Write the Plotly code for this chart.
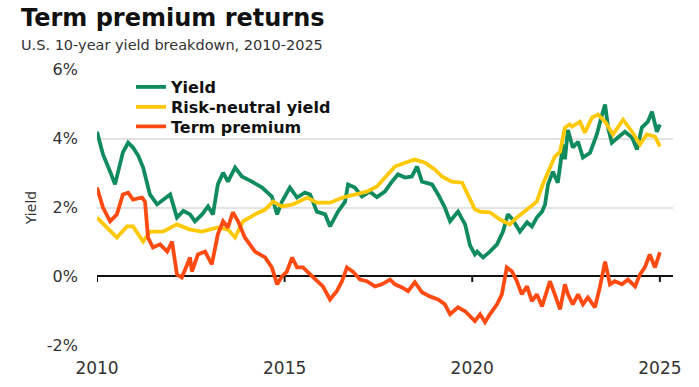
import plotly.graph_objects as go

# ---- data ----
yield_years = [2010.00, 2010.16, 2010.35, 2010.48, 2010.69, 2010.83, 2010.96, 2011.10, 2011.23, 2011.41,
               2011.60, 2011.80, 2011.95, 2012.13, 2012.30, 2012.48, 2012.61, 2012.80, 2012.96, 2013.09,
               2013.22, 2013.36, 2013.49, 2013.68, 2013.86, 2014.13, 2014.40, 2014.66, 2014.80, 2014.93,
               2015.14, 2015.33, 2015.54, 2015.68, 2015.86, 2016.08, 2016.21, 2016.42, 2016.61, 2016.69,
               2016.87, 2017.06, 2017.27, 2017.46, 2017.67, 2017.86, 2018.02, 2018.21, 2018.39, 2018.53,
               2018.66, 2018.93, 2019.09, 2019.27, 2019.41, 2019.62, 2019.81, 2019.94, 2020.07, 2020.13,
               2020.29, 2020.47, 2020.66, 2020.82, 2020.95, 2021.08, 2021.27, 2021.46, 2021.59, 2021.72,
               2021.86, 2021.94, 2022.02, 2022.15, 2022.28, 2022.42, 2022.47, 2022.55, 2022.68, 2022.82,
               2022.95, 2023.14, 2023.32, 2023.46, 2023.54, 2023.62, 2023.72, 2023.88, 2024.07, 2024.26,
               2024.39, 2024.52, 2024.68, 2024.79, 2024.92, 2025.00]
yield_vals = [4.20, 3.54, 3.04, 2.67, 3.60, 3.88, 3.74, 3.50, 3.16, 2.38,
              2.09, 2.25, 2.38, 1.71, 1.90, 1.80, 1.60, 1.80, 2.03, 1.80,
              2.67, 3.01, 2.75, 3.16, 2.90, 2.75, 2.58, 2.32, 1.80, 2.17,
              2.58, 2.29, 2.43, 2.38, 1.88, 1.80, 1.45, 1.88, 2.17, 2.67,
              2.58, 2.32, 2.46, 2.30, 2.46, 2.75, 2.96, 2.87, 2.90, 3.19,
              2.75, 2.67, 2.38, 2.00, 1.60, 1.88, 1.51, 0.90, 0.64, 0.72,
              0.55, 0.72, 0.93, 1.30, 1.80, 1.65, 1.30, 1.57, 1.45, 1.71,
              1.88, 2.09, 2.67, 3.04, 2.72, 3.83, 3.40, 4.25, 3.74, 3.91,
              3.45, 3.59, 4.12, 4.70, 4.99, 4.32, 3.88, 4.03, 4.20, 4.03,
              3.68, 4.32, 4.49, 4.78, 4.20, 4.41]

rn_years = [2010.00, 2010.27, 2010.53, 2010.80, 2010.96, 2011.23, 2011.41, 2011.76, 2012.13, 2012.48,
            2012.80, 2013.22, 2013.49, 2013.68, 2013.89, 2014.21, 2014.48, 2014.69, 2014.93, 2015.22,
            2015.60, 2015.86, 2016.21, 2016.55, 2016.93, 2017.19, 2017.46, 2017.67, 2017.94, 2018.21,
            2018.47, 2018.74, 2019.01, 2019.19, 2019.46, 2019.73, 2019.89, 2020.07, 2020.21, 2020.47,
            2020.74, 2021.00, 2021.19, 2021.46, 2021.72, 2021.88, 2022.07, 2022.20, 2022.34, 2022.47,
            2022.60, 2022.66, 2022.87, 2023.00, 2023.19, 2023.35, 2023.54, 2023.75, 2024.02, 2024.26,
            2024.47, 2024.65, 2024.87, 2025.00]
rn_vals = [1.71, 1.42, 1.13, 1.45, 1.45, 1.01, 1.30, 1.30, 1.51, 1.36,
           1.30, 1.42, 1.36, 1.13, 1.60, 1.80, 1.94, 2.17, 2.03, 2.09,
           2.29, 2.14, 2.14, 2.29, 2.38, 2.46, 2.61, 2.87, 3.19, 3.30,
           3.39, 3.30, 3.10, 2.90, 2.75, 2.72, 2.38, 1.95, 1.88, 1.86,
           1.65, 1.51, 1.71, 1.94, 2.17, 2.67, 3.16, 3.48, 3.62, 4.32,
           4.41, 4.35, 4.49, 4.17, 4.61, 4.70, 4.49, 4.12, 4.55, 4.20,
           3.83, 4.12, 4.06, 3.77]

tp_years = [2010.00, 2010.16, 2010.35, 2010.53, 2010.69, 2010.83, 2010.96, 2011.20, 2011.28, 2011.36,
            2011.49, 2011.68, 2011.87, 2012.00, 2012.13, 2012.26, 2012.48, 2012.53, 2012.69, 2012.88,
            2013.06, 2013.22, 2013.36, 2013.49, 2013.62, 2013.76, 2013.94, 2014.21, 2014.48, 2014.66,
            2014.80, 2014.93, 2015.06, 2015.20, 2015.33, 2015.49, 2015.68, 2015.86, 2016.02, 2016.21,
            2016.39, 2016.53, 2016.66, 2016.82, 2017.01, 2017.19, 2017.41, 2017.59, 2017.81, 2017.94,
            2018.13, 2018.29, 2018.47, 2018.66, 2018.87, 2019.09, 2019.27, 2019.41, 2019.62, 2019.81,
            2019.94, 2020.07, 2020.21, 2020.34, 2020.47, 2020.66, 2020.79, 2020.92, 2021.06, 2021.19,
            2021.32, 2021.46, 2021.59, 2021.72, 2021.86, 2021.99, 2022.07, 2022.20, 2022.34, 2022.47,
            2022.55, 2022.68, 2022.82, 2022.95, 2023.08, 2023.27, 2023.40, 2023.54, 2023.67, 2023.80,
            2023.99, 2024.15, 2024.34, 2024.47, 2024.60, 2024.73, 2024.87, 2025.00]
tp_vals = [2.58, 2.00, 1.60, 1.80, 2.38, 2.43, 2.23, 2.29, 2.17, 1.13,
           0.84, 0.93, 0.72, 1.01, 0.06, -0.03, 0.55, 0.14, 0.64, 0.72,
           0.35, 1.22, 1.60, 1.42, 1.86, 1.60, 1.13, 0.72, 0.55, 0.26,
           -0.23, 0.00, 0.14, 0.55, 0.26, 0.26, 0.06, -0.14, -0.29, -0.67,
           -0.43, -0.14, 0.26, 0.14, -0.09, -0.14, -0.29, -0.23, -0.09, -0.23,
           -0.32, -0.43, -0.17, -0.46, -0.58, -0.67, -0.81, -1.10, -0.90, -1.01,
           -1.16, -1.30, -1.10, -1.33, -1.10, -0.81, -0.52, 0.26, 0.14, -0.14,
           -0.52, -0.29, -0.72, -0.52, -0.87, -0.43, -0.14, -0.52, -0.96, -0.23,
           -0.52, -0.81, -0.52, -0.81, -0.61, -0.90, -0.32, 0.43, -0.23, -0.14,
           -0.23, -0.09, -0.29, 0.06, 0.26, 0.64, 0.26, 0.70]

x_tick_vals = [2010, 2015, 2020, 2025]
x_tick_text = ["2010", "2015", "2020", "2025"]
y_tick_vals = [-2, 0, 2, 4, 6]
y_tick_text = ["-2%", "0%", "2%", "4%", "6%"]

GREEN = "#0f8b5d"
YELLOW = "#ffc805"
ORANGE = "#ff4b12"

fig = go.Figure()
fig.add_trace(go.Scatter(x=yield_years, y=yield_vals, mode="lines", name="Yield",
                         line=dict(color=GREEN, width=3.8), legend="legend"))
fig.add_trace(go.Scatter(x=rn_years, y=rn_vals, mode="lines", name="Risk-neutral yield",
                         line=dict(color=YELLOW, width=3.8), legend="legend2"))
fig.add_trace(go.Scatter(x=tp_years, y=tp_vals, mode="lines", name="Term premium",
                         line=dict(color=ORANGE, width=3.8), legend="legend3"))

# small tick marks hanging from the zero line
for xv in x_tick_vals:
    fig.add_shape(type="line", xref="x", yref="y", x0=xv, x1=xv, y0=0, y1=-0.16,
                  line=dict(color="#111111", width=2))

W, H = 699, 387
L, R, T, B = 97, 26, 69, 41
pw, ph = W - L - R, H - T - B

def px_x(p):
    return (p - L) / pw

def px_y(p):
    return (H - B - p) / ph

fig.add_annotation(text="<b>Term premium returns</b>", xref="paper", yref="paper",
                   x=px_x(19), y=px_y(18), xanchor="left", yanchor="middle", showarrow=False,
                   font=dict(family="DejaVu Sans", size=24, color="#111111"))
fig.add_annotation(text="U.S. 10-year yield breakdown, 2010-2025", xref="paper", yref="paper",
                   x=px_x(19), y=px_y(44.5), xanchor="left", yanchor="middle", showarrow=False,
                   font=dict(family="DejaVu Sans", size=14.5, color="#333333"))

legend_font = dict(family="DejaVu Sans", size=16, color="#111111", weight="bold")

def leg(center_px):
    return dict(x=px_x(131), y=px_y(center_px), xanchor="left", yanchor="middle",
                bgcolor="rgba(0,0,0,0)", borderwidth=0, font=legend_font, itemwidth=30)

fig.update_layout(
    width=W, height=H,
    margin=dict(l=L, r=R, t=T, b=B, pad=0, autoexpand=False),
    paper_bgcolor="white", plot_bgcolor="white",
    font=dict(family="DejaVu Sans", color="#333333"),
    showlegend=True,
    hovermode=False,
    legend=leg(87), legend2=leg(107), legend3=leg(126.5),
    xaxis=dict(range=[2010, 2025.35], tickvals=x_tick_vals, ticktext=x_tick_text,
               showgrid=False, zeroline=False, showline=False, ticks="",
               tickfont=dict(family="DejaVu Sans", size=17, color="#333333"),
               ticklabelstandoff=10, automargin=False, fixedrange=True),
    yaxis=dict(range=[-2.02, 6.02], tickvals=y_tick_vals, ticktext=y_tick_text,
               showgrid=True, gridcolor="#e2e2e2", gridwidth=1.5,
               zeroline=True, zerolinecolor="#111111", zerolinewidth=2,
               showline=False, ticks="",
               tickfont=dict(family="DejaVu Sans", size=16, color="#333333"),
               ticklabelstandoff=18, automargin=False,
               title=dict(text="Yield", standoff=6,
                          font=dict(family="DejaVu Sans", size=14, color="#333333")),
               fixedrange=True),
)

# remove the browser's default 8px body margin so the figure fills the window
fig.write_html("out.html", config={"displayModeBar": False},
               post_script="document.body.style.margin='0px';")
